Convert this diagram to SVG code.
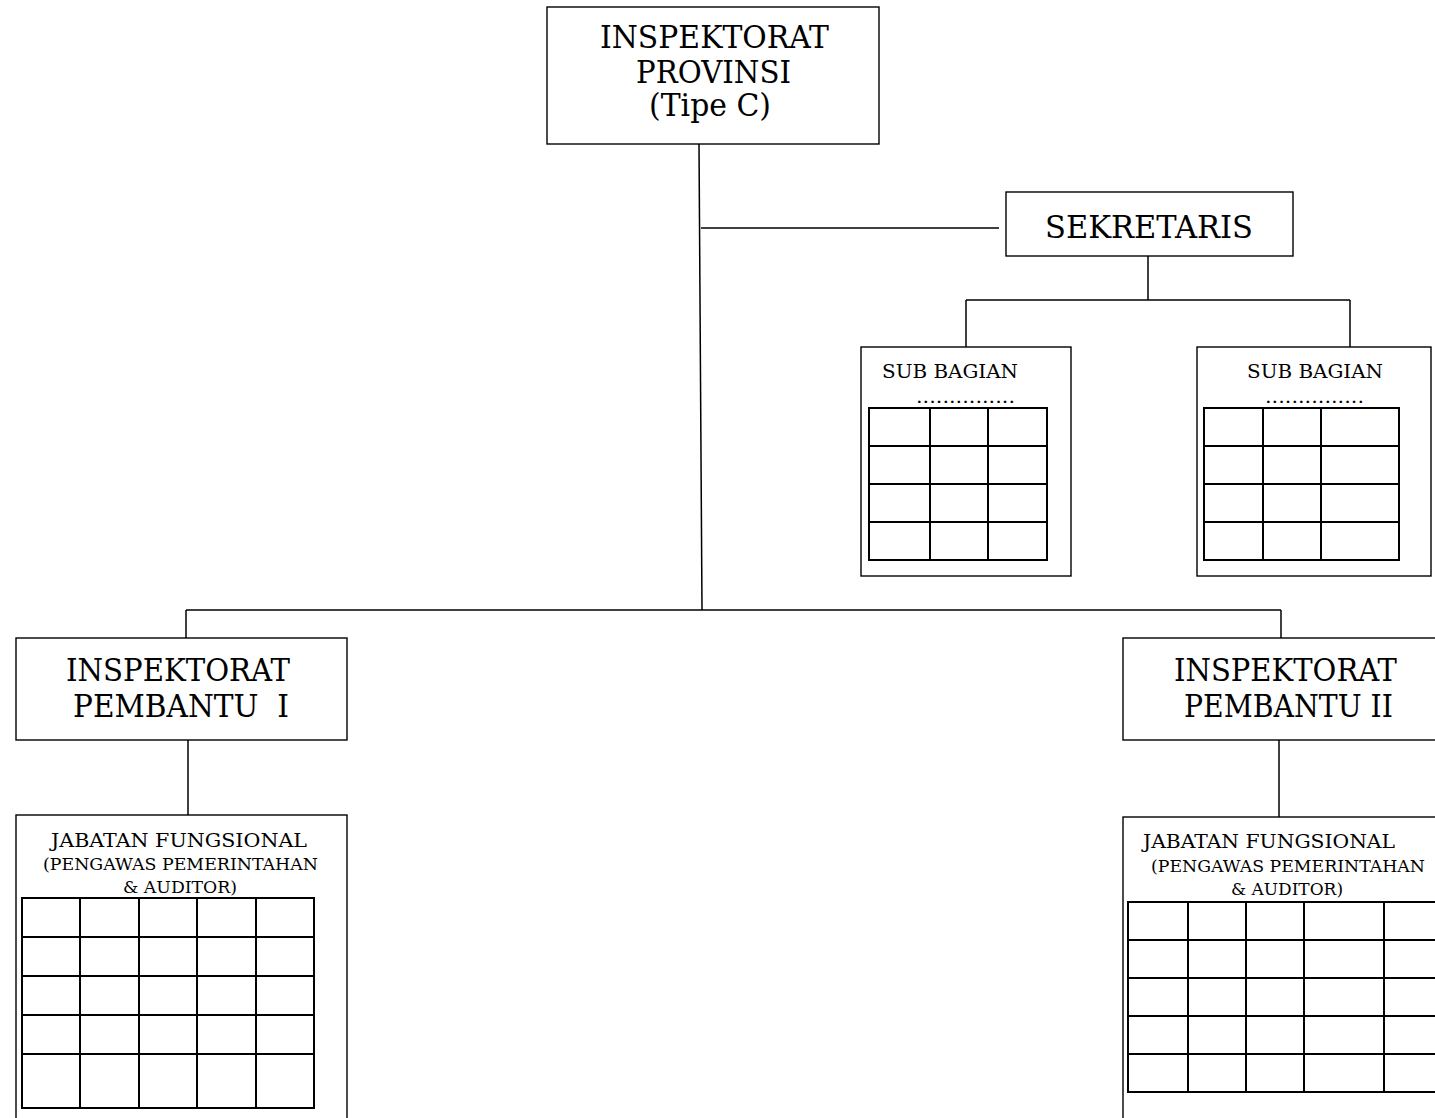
<svg xmlns="http://www.w3.org/2000/svg" width="1435" height="1118" viewBox="0 0 1435 1118">
<style>
  .box { fill: #ffffff; stroke: #000000; stroke-width: 1.4; }
  .grid { fill: none; stroke: #000000; stroke-width: 2; }
  .conn { fill: none; stroke: #000000; stroke-width: 1.5; }
  text { font-family: "DejaVu Serif", "Liberation Serif", serif; fill: #000000; }
  .big { font-size: 31px; }
  .sub { font-size: 18.5px; }
  .jf1 { font-size: 18.5px; }
  .jf2 { font-size: 16px; }
</style>
<rect x="0" y="0" width="1435" height="1118" fill="#ffffff"/>

<g id="connectors">
  <line class="conn" x1="699" y1="144" x2="702" y2="610"/>
  <line class="conn" x1="701" y1="228" x2="999" y2="228"/>
  <line class="conn" x1="1148" y1="256" x2="1148" y2="300"/>
  <line class="conn" x1="966" y1="300" x2="1350" y2="300"/>
  <line class="conn" x1="966" y1="300" x2="966" y2="347"/>
  <line class="conn" x1="1350" y1="300" x2="1350" y2="347"/>
  <line class="conn" x1="186" y1="610" x2="1281" y2="610"/>
  <line class="conn" x1="186" y1="610" x2="186" y2="638"/>
  <line class="conn" x1="1281" y1="610" x2="1281" y2="638"/>
  <line class="conn" x1="188" y1="740" x2="188" y2="815"/>
  <line class="conn" x1="1279" y1="740" x2="1279" y2="817"/>
</g>

<g id="inspektorat-provinsi">
  <rect class="box" x="547" y="7" width="332" height="137"/>
  <text class="big" x="600" y="48" textLength="229" lengthAdjust="spacingAndGlyphs">INSPEKTORAT</text>
  <text class="big" x="636" y="83" textLength="155" lengthAdjust="spacingAndGlyphs">PROVINSI</text>
  <text class="big" x="649" y="116" textLength="122" lengthAdjust="spacingAndGlyphs">(Tipe C)</text>
</g>

<g id="sekretaris">
  <rect class="box" x="1006" y="192" width="287" height="64"/>
  <text class="big" x="1045" y="238" textLength="208" lengthAdjust="spacingAndGlyphs">SEKRETARIS</text>
</g>

<g id="sub-bagian-1">
  <rect class="box" x="861" y="347" width="210" height="229"/>
  <text class="sub" x="882" y="378" textLength="136" lengthAdjust="spacingAndGlyphs">SUB BAGIAN</text>
  <text class="sub" x="916" y="403" textLength="99" lengthAdjust="spacingAndGlyphs">...............</text>
  <path class="grid" d="M869 408H1047V560H869Z M930 408V560 M988 408V560 M869 446H1047 M869 484H1047 M869 522H1047"/>
</g>

<g id="sub-bagian-2">
  <rect class="box" x="1197" y="347" width="234" height="229"/>
  <text class="sub" x="1247" y="378" textLength="136" lengthAdjust="spacingAndGlyphs">SUB BAGIAN</text>
  <text class="sub" x="1265" y="403" textLength="99" lengthAdjust="spacingAndGlyphs">...............</text>
  <path class="grid" d="M1204 408H1399V560H1204Z M1263 408V560 M1321 408V560 M1204 446H1399 M1204 484H1399 M1204 522H1399"/>
</g>

<g id="inspektorat-pembantu-1">
  <rect class="box" x="16" y="638" width="331" height="102"/>
  <text class="big" x="66" y="681" textLength="224" lengthAdjust="spacingAndGlyphs">INSPEKTORAT</text>
  <text class="big" x="73" y="717" textLength="216" lengthAdjust="spacingAndGlyphs" style="white-space:pre">PEMBANTU  I</text>
</g>

<g id="inspektorat-pembantu-2">
  <rect class="box" x="1123" y="638" width="332" height="102"/>
  <text class="big" x="1174" y="681" textLength="223" lengthAdjust="spacingAndGlyphs">INSPEKTORAT</text>
  <text class="big" x="1184" y="717" textLength="209" lengthAdjust="spacingAndGlyphs">PEMBANTU II</text>
</g>

<g id="jabatan-fungsional-1">
  <rect class="box" x="16" y="815" width="331" height="320"/>
  <text class="jf1" x="51" y="847" textLength="256" lengthAdjust="spacingAndGlyphs">JABATAN FUNGSIONAL</text>
  <text class="jf2" x="43" y="870" textLength="275" lengthAdjust="spacingAndGlyphs">(PENGAWAS PEMERINTAHAN</text>
  <text class="jf2" x="123" y="893" textLength="114" lengthAdjust="spacingAndGlyphs">&amp; AUDITOR)</text>
  <path class="grid" d="M22 898H314V1108H22Z M80 898V1108 M139 898V1108 M197 898V1108 M256 898V1108 M22 937H314 M22 976H314 M22 1015H314 M22 1054H314"/>
</g>

<g id="jabatan-fungsional-2">
  <rect class="box" x="1123" y="817" width="332" height="320"/>
  <text class="jf1" x="1143" y="848" textLength="252" lengthAdjust="spacingAndGlyphs">JABATAN FUNGSIONAL</text>
  <text class="jf2" x="1151" y="872" textLength="274" lengthAdjust="spacingAndGlyphs">(PENGAWAS PEMERINTAHAN</text>
  <text class="jf2" x="1231" y="895" textLength="112" lengthAdjust="spacingAndGlyphs">&amp; AUDITOR)</text>
  <path class="grid" d="M1128 902H1450V1092H1128Z M1188 902V1092 M1246 902V1092 M1304 902V1092 M1384 902V1092 M1128 940H1450 M1128 978H1450 M1128 1016H1450 M1128 1054H1450"/>
</g>
</svg>
